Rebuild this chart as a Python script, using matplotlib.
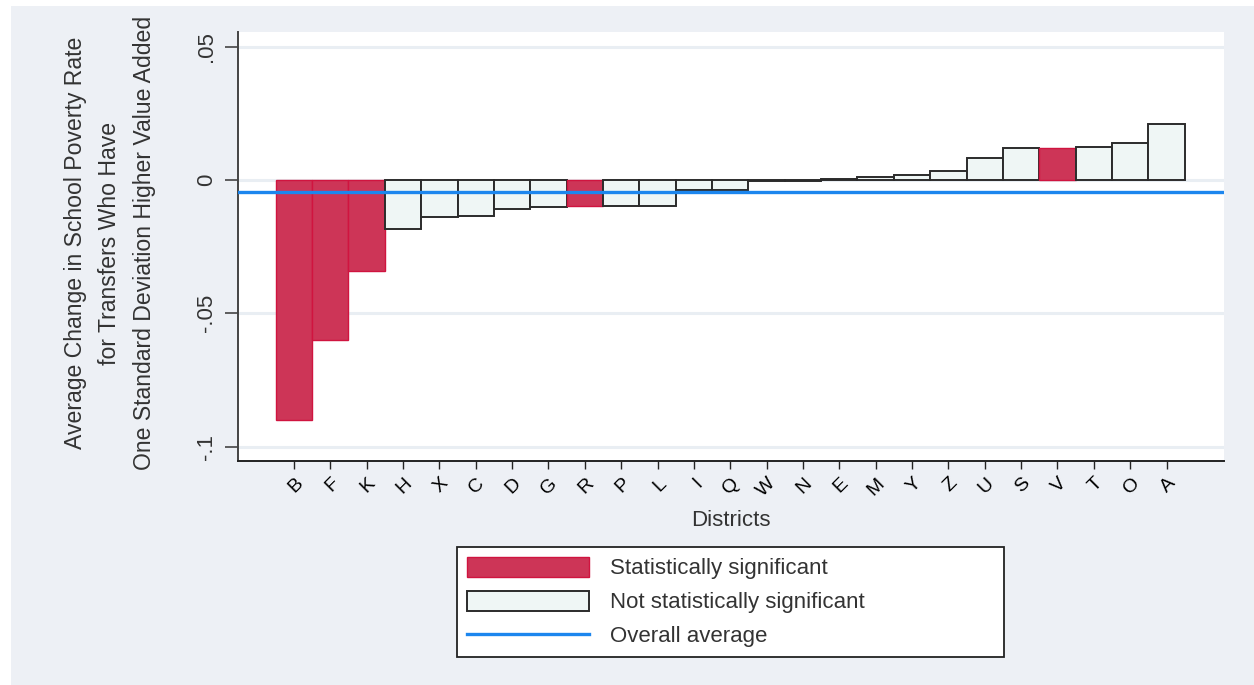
import matplotlib
matplotlib.use("Agg")
import matplotlib.pyplot as plt
from matplotlib.patches import Patch, Rectangle
from matplotlib.lines import Line2D

plt.rcParams["font.family"] = ["Liberation Sans", "DejaVu Sans"]

# District-level estimates, sorted from most negative to most positive
districts = ["B", "F", "K", "H", "X", "C", "D", "G", "R", "P", "L", "I", "Q",
             "W", "N", "E", "M", "Y", "Z", "U", "S", "V", "T", "O", "A"]
effects = [-0.0902, -0.0602, -0.0341, -0.0185, -0.0140, -0.0135, -0.0108,
           -0.0100, -0.0098, -0.0097, -0.0097, -0.0038, -0.0036, -0.0002,
           -0.0002, 0.0005, 0.0010, 0.0017, 0.0034, 0.0083, 0.0120, 0.0120,
           0.0125, 0.0138, 0.0209]
significant = [True, True, True, False, False, False, False, False, True,
               False, False, False, False, False, False, False, False, False,
               False, False, False, True, False, False, False]
overall_average = -0.0046

y_ticks = [0.05, 0.0, -0.05, -0.1]
y_tick_labels = [".05", "0", "-.05", "-.1"]

SIG_FILL = "#CD3557"
SIG_EDGE = "#D0143F"
NS_FILL = "#EFF6F5"
NS_EDGE = "#2B2B2B"
AVG_COLOR = "#1C86EE"
BG = "#EDF0F5"
GRID = "#E9EEF3"

W, H = 1254, 685
fig = plt.figure(figsize=(W / 100, H / 100), dpi=100, facecolor="white")
fig.patches.append(Rectangle((11 / W, 0), 1 - 11 / W, 1 - 6 / H,
                             transform=fig.transFigure, facecolor=BG,
                             edgecolor="none", zorder=-10))

ax = fig.add_axes([238.3 / W, 1 - 461 / H, (1224 - 238.3) / W, (461 - 32) / H])
ax.set_facecolor("white")

x = list(range(len(districts)))
for xi, val, sig in zip(x, effects, significant):
    ax.bar(xi, val, width=1.0,
           color=SIG_FILL if sig else NS_FILL,
           edgecolor=SIG_EDGE if sig else NS_EDGE,
           linewidth=1.0 if sig else 1.4, zorder=3)

ax.axhline(overall_average, color=AVG_COLOR, linewidth=2.4, zorder=4)

ax.set_xlim(-1.53, 25.58)
ax.set_ylim(-0.1054, 0.0555)

ax.set_yticks(y_ticks)
ax.set_yticklabels(y_tick_labels, rotation=90, va="center", fontsize=16,
                   color="#333333")
ax.yaxis.grid(True, color=GRID, linewidth=2.2, zorder=0)
ax.set_axisbelow(True)
ax.tick_params(axis="y", length=9.5, width=1.2, pad=6, color="#444444")

ax.set_xticks(x)
ax.set_xticklabels(districts, rotation=45, ha="right", va="top",
                   rotation_mode="anchor", fontsize=14)
ax.tick_params(axis="x", length=6, width=1.0, pad=4, color="#222222")

for side in ["top", "right"]:
    ax.spines[side].set_visible(False)
ax.spines["left"].set_color("#444444")
ax.spines["left"].set_linewidth(1.4)
ax.spines["bottom"].set_color("#222222")
ax.spines["bottom"].set_linewidth(1.4)

fig.text(110 / W, 1 - 243 / H,
         "Average Change in School Poverty Rate\nfor Transfers Who Have\n"
         "One Standard Deviation Higher Value Added",
         rotation=90, ha="center", va="center", multialignment="center",
         fontsize=16.6, linespacing=1.62, color="#333333")
fig.text(731 / W, 1 - 520 / H, "Districts", ha="center", va="center",
         fontsize=16, color="#333333")

handles = [
    Patch(facecolor=SIG_FILL, edgecolor=SIG_EDGE, linewidth=1.0),
    Patch(facecolor=NS_FILL, edgecolor=NS_EDGE, linewidth=1.4),
    Line2D([], [], color=AVG_COLOR, linewidth=2.4),
]
labels = ["Statistically significant", "Not statistically significant",
          "Overall average"]
leg = fig.legend(handles, labels, loc="center",
                 bbox_to_anchor=(457 / W, 1 - 657 / H, 547 / W, 110 / H),
                 mode="expand", borderaxespad=0, fontsize=16,
                 handlelength=5.5, handleheight=1.05, handletextpad=0.95,
                 labelspacing=0.5, borderpad=0.45, fancybox=False,
                 framealpha=1, edgecolor="#222222", facecolor="white")
leg.get_frame().set_linewidth(1.3)
for t in leg.get_texts():
    t.set_color("#333333")

fig.savefig("out.png", dpi=100, facecolor="white")
